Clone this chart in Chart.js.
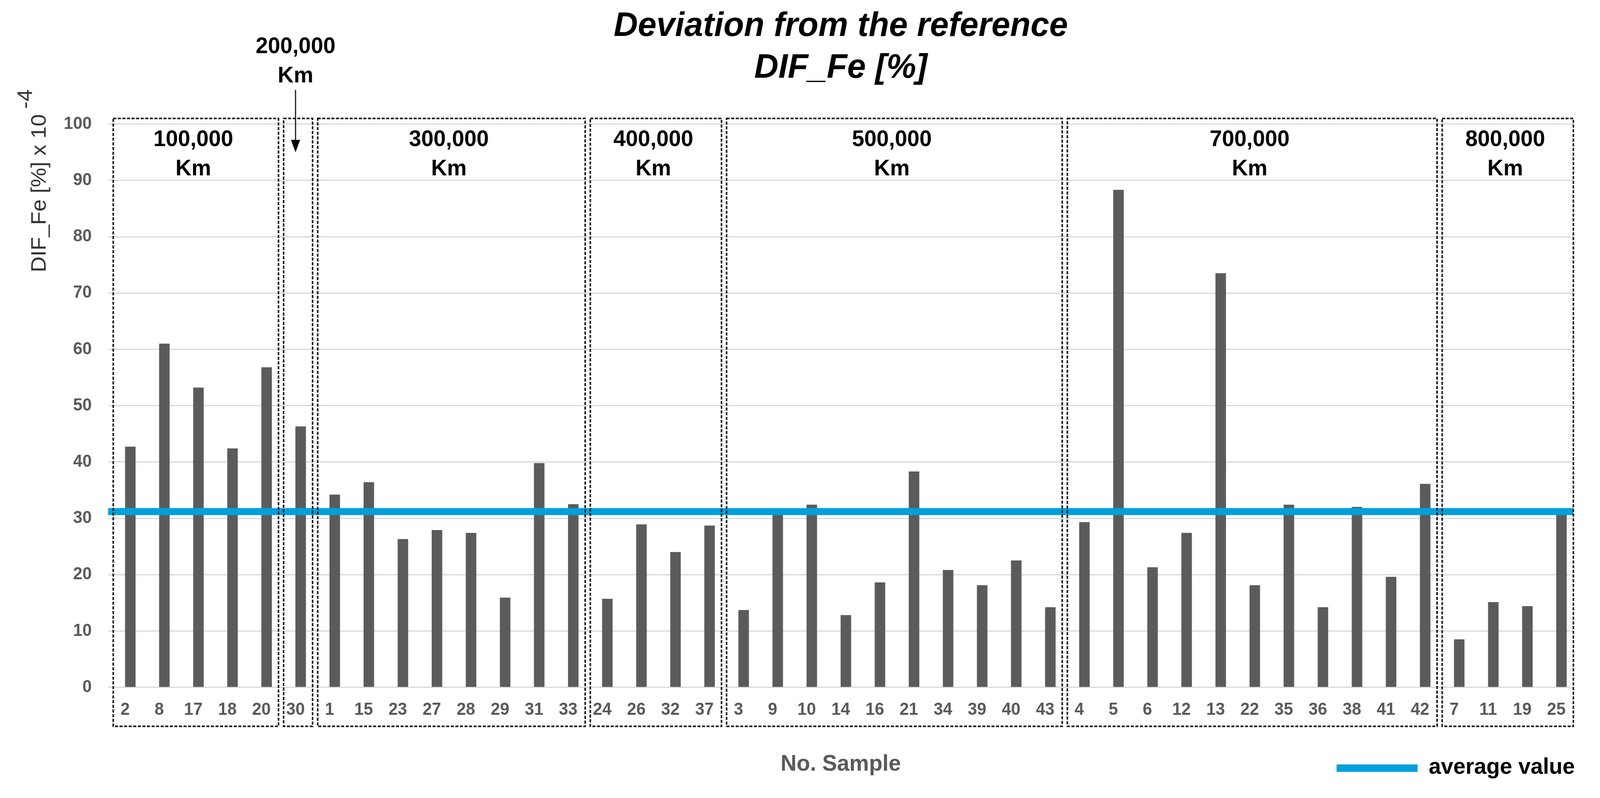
<!DOCTYPE html>
<html>
<head>
<meta charset="utf-8">
<script src="https://cdn.jsdelivr.net/npm/chart.js@4.4.1/dist/chart.umd.min.js"></script>
<style>
    html, body { margin: 0; padding: 0; background: #fff; overflow: hidden; }
    #chart { display: block; width: 100vw; height: 100vh; }
</style>
</head>
<body>
<canvas id="chart" width="4203" height="2043" style="width:100vw;height:100vh"></canvas>
<script>
// Sample numbers, in the order they appear on the x axis
const samples = ['2', '8', '17', '18', '20', '30', '1', '15', '23', '27', '28', '29', '31', '33',
    '24', '26', '32', '37', '3', '9', '10', '14', '16', '21', '34', '39', '40', '43',
    '4', '5', '6', '12', '13', '22', '35', '36', '38', '41', '42', '7', '11', '19', '25'];

// DIF_Fe [%] x 10^-4
const difFe = [42.7, 61.0, 53.2, 42.4, 56.8, 46.3, 34.2, 36.4, 26.3, 27.9, 27.4, 15.9, 39.8, 32.5,
    15.7, 28.9, 24.0, 28.7, 13.7, 31.0, 32.4, 12.8, 18.6, 38.3, 20.8, 18.1, 22.5, 14.2,
    29.3, 88.3, 21.3, 27.4, 73.5, 18.1, 32.4, 14.2, 32.0, 19.6, 36.1, 8.5, 15.1, 14.4, 30.8];

const averageValue = 31.2;

// Mileage groups (number of samples in each, left to right)
const groupNames = ['100,000', '200,000', '300,000', '400,000', '500,000', '700,000', '800,000'];
const groupSizes = [5, 1, 8, 4, 10, 11, 4];

const yMin = 0;
const yMax = 100;
const yStep = 10;

const FONT = "'Liberation Sans', Arial, Helvetica, sans-serif";
const GREY = '#595959';

document.addEventListener('DOMContentLoaded', () => {
    const ctx = document.getElementById('chart').getContext('2d');

    // dashed boxes around each mileage group + their labels
    const groupBoxes = {
        id: 'groupBoxes',
        afterDatasetsDraw(chart) {
            const { ctx, chartArea, scales: { x, y } } = chart;
            const step = x.getPixelForValue(1) - x.getPixelForValue(0);
            const top = y.getPixelForValue(yMax + 1);
            const bottom = chartArea.bottom + 100;
            let start = 0;

            ctx.save();
            groupSizes.forEach((size, g) => {
                const end = start + size - 1;
                const left = x.getPixelForValue(start) - step / 2 + step * 0.15;
                const right = x.getPixelForValue(end) + step / 2;

                ctx.setLineDash([8, 4]);
                ctx.lineWidth = 4;
                ctx.strokeStyle = '#111';
                ctx.strokeRect(left, top, right - left, bottom - top);
                ctx.setLineDash([]);

                const cx = (x.getPixelForValue(start) + x.getPixelForValue(end)) / 2;
                ctx.fillStyle = '#000';
                ctx.font = 'bold 58px ' + FONT;
                ctx.textAlign = 'center';
                ctx.textBaseline = 'middle';

                if (size === 1) {
                    // too narrow: label sits above the plot with an arrow
                    ctx.fillText(groupNames[g], cx, 120);
                    ctx.fillText('Km', cx, 195);
                    ctx.lineWidth = 3;
                    ctx.beginPath();
                    ctx.moveTo(cx, 230);
                    ctx.lineTo(cx, 365);
                    ctx.stroke();
                    ctx.beginPath();
                    ctx.moveTo(cx, 390);
                    ctx.lineTo(cx - 12, 358);
                    ctx.lineTo(cx + 12, 358);
                    ctx.closePath();
                    ctx.fill();
                } else {
                    const y0 = y.getPixelForValue(yMax);
                    ctx.fillText(groupNames[g], cx, y0 + 40);
                    ctx.fillText('Km', cx, y0 + 115);
                }
                start = end + 1;
            });
            ctx.restore();
        }
    };

    // y axis title with the 10^-4 exponent, and the legend entry
    const extras = {
        id: 'extras',
        afterDraw(chart) {
            const { ctx } = chart;
            ctx.save();
            ctx.translate(120, 697);
            ctx.rotate(-Math.PI / 2);
            ctx.font = '56px ' + FONT;
            ctx.fillStyle = '#333';
            ctx.textAlign = 'left';
            ctx.textBaseline = 'alphabetic';
            const main = 'DIF_Fe [%] x 10';
            ctx.fillText(main, 0, 0);
            ctx.fillText('-4', ctx.measureText(main).width + 14, -36);
            ctx.restore();

            const avg = chart.data.datasets[0];
            ctx.save();
            ctx.fillStyle = avg.borderColor;
            ctx.fillRect(3511, 1957, 213, 19);
            ctx.fillStyle = '#000';
            ctx.font = 'bold 58px ' + FONT;
            ctx.textAlign = 'left';
            ctx.textBaseline = 'alphabetic';
            ctx.fillText(avg.label, 3753, 1981);
            ctx.restore();
        }
    };

    new Chart(ctx, {
        data: {
            labels: samples,
            datasets: [{
                type: 'line',
                label: 'average value',
                xAxisID: 'x2',
                data: [{ x: 0, y: averageValue }, { x: 1, y: averageValue }],
                borderColor: '#00a0dc',
                backgroundColor: '#00a0dc',
                borderWidth: 18,
                pointRadius: 0,
                order: 0
            }, {
                type: 'bar',
                label: 'DIF_Fe',
                data: difFe,
                backgroundColor: '#5b5b5b',
                borderWidth: 0,
                barThickness: 27,
                order: 1
            }]
        },
        options: {
            responsive: false,
            devicePixelRatio: 1,
            animation: false,
            layout: { padding: { left: 0, right: 70, top: 0, bottom: 51 } },
            plugins: {
                legend: { display: false },
                tooltip: { enabled: false },
                title: {
                    display: true,
                    fullSize: false,
                    text: ['Deviation from the reference', 'DIF_Fe [%]'],
                    color: '#000',
                    font: { family: FONT, size: 88, weight: 'bold', style: 'italic', lineHeight: 1.22 },
                    padding: { top: 14, bottom: 89 }
                }
            },
            scales: {
                x: {
                    type: 'category',
                    grid: { display: false, drawTicks: false },
                    border: { display: false },
                    ticks: {
                        autoSkip: false,
                        maxRotation: 0,
                        padding: 32,
                        color: GREY,
                        font: { family: FONT, size: 44, weight: 'bold' }
                    },
                    title: {
                        display: true,
                        text: 'No. Sample',
                        color: GREY,
                        font: { family: FONT, size: 58, weight: 'bold' },
                        padding: { top: 46, bottom: 0 }
                    }
                },
                x2: { type: 'linear', min: 0, max: 1, display: false },
                y: {
                    min: yMin,
                    max: yMax,
                    ticks: {
                        stepSize: yStep,
                        padding: 43,
                        color: GREY,
                        font: { family: FONT, size: 44, weight: 'bold' }
                    },
                    grid: { color: '#d9d9d9', lineWidth: 3, drawTicks: false },
                    border: { display: false },
                    afterFit(scale) { scale.width = 284; }
                }
            }
        },
        plugins: [groupBoxes, extras]
    });
});
</script>
</body>
</html>
